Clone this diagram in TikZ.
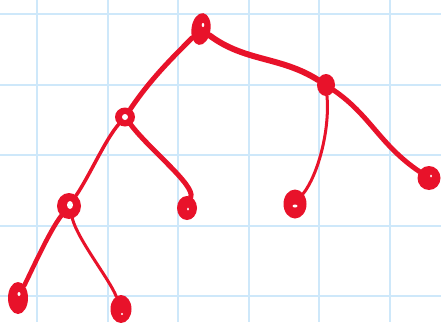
\documentclass[tikz,border=0pt]{standalone}
\usetikzlibrary{shapes.geometric}
\definecolor{gridblue}{RGB}{206,232,250}
\definecolor{ink}{RGB}{232,18,42}
\begin{document}
\begin{tikzpicture}[x=1pt,y=-1pt,
  vert/.style={ellipse, fill=ink, inner sep=0pt, outer sep=0pt},
  edge/.style={draw=ink, line cap=round},
  hole/.style={fill=white},
  gridline/.style={draw=gridblue, line width=2pt}]
\useasboundingbox (0,0) rectangle (441,322);
\fill[white] (0,0) rectangle (441,322);
\foreach \x in {37,107.6,178.2,248.8,319.4,390} \draw[gridline] (\x,0) -- (\x,322);
\foreach \y in {14.3,84.8,155.3,225.8,296.3} \draw[gridline] (0,\y) -- (441,\y);
% nodes
\node[vert, minimum width=19, minimum height=32, rotate=-8] (root) at (201,29) {};
\node[vert, minimum width=18, minimum height=22] (r) at (326,85) {};
\node[vert, minimum width=20, minimum height=19] (l) at (125,117) {};
\node[vert, minimum width=24, minimum height=26] (ll) at (69,206) {};
\node[vert, minimum width=20, minimum height=24] (lr) at (187,208) {};
\node[vert, minimum width=23, minimum height=29] (rl) at (295,204) {};
\node[vert, minimum width=23, minimum height=24] (rr) at (429,178) {};
\node[vert, minimum width=20, minimum height=32] (lll) at (18,298) {};
\node[vert, minimum width=21, minimum height=28] (llr) at (121,309) {};
% holes
\fill[hole] (root.center) ++(2,-4) ellipse (1.3 and 2);
\fill[hole] (l.center) ellipse (3 and 3);
\fill[hole] (ll.center) ++(1,-1) ellipse (3 and 4);
\fill[hole] (lr.center) ++(1,1) ellipse (1 and 1.5);
\fill[hole] (rl.center) ++(0,2) ellipse (2.5 and 1.5);
\fill[hole] (rr.center) ++(2,-2) ellipse (1 and 1.5);
\fill[hole] (lll.center) ++(1,-4) ellipse (1.5 and 2);
\fill[hole] (llr.center) ++(1,5) ellipse (1 and 1.2);
% edges
\draw[edge, line width=5pt] (root) .. controls (170,60) and (150,80) .. (l);
\draw[edge, line width=6pt] (root) .. controls (245,62) and (280,56) .. (r);
\draw[edge, line width=3pt] (r) .. controls (330,130) and (318,175) .. (rl);
\draw[edge, line width=5pt] (r) .. controls (370,115) and (380,145) .. (rr);
\draw[edge, line width=3.5pt] (l) .. controls (105,140) and (90,175) .. (ll);
\draw[edge, line width=5pt] (l) .. controls (150,150) and (195,185) .. (lr);
\draw[edge, line width=4.5pt] (ll) .. controls (50,230) and (32,270) .. (lll);
\draw[edge, line width=3pt] (ll) .. controls (78,240) and (110,280) .. (llr);
\end{tikzpicture}
\end{document}
